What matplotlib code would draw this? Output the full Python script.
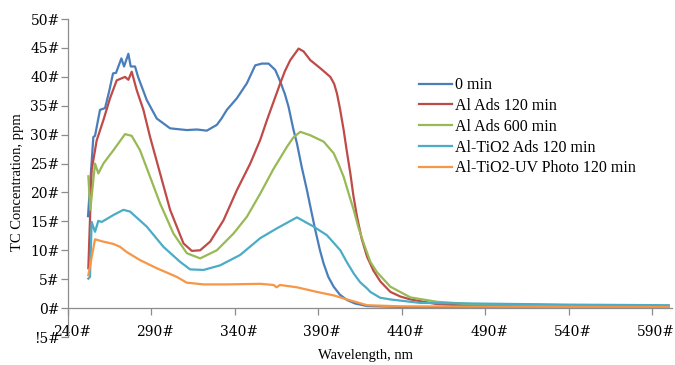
import matplotlib as mpl
import matplotlib.pyplot as plt
from matplotlib.transforms import ScaledTranslation

mpl.rcParams.update({"font.family": "Liberation Serif"})

# ---- data ----
wl_blue = [252, 255.2, 256.2, 259.2, 262.2, 264.6, 267, 268.8, 272, 273.6, 276.2, 277.6, 280.2, 282,
           287.2, 293.2, 301.2, 311.2, 317.2, 323.2, 329.2, 332, 335.2, 341.2, 347.2, 352.2, 356.2, 360.2,
           364.2, 367.2, 370, 372.2, 375, 377.2, 380, 383.2, 386, 388.2, 391, 393.2, 396, 399.2, 403,
           407.2, 412, 419.2, 440, 490, 540, 600]
tc_blue = [15.9, 29.6, 29.8, 34.3, 34.6, 37.4, 40.6, 40.7, 43.2, 41.8, 44.0, 41.8, 41.8, 40,
           36, 32.8, 31.1, 30.8, 30.9, 30.7, 31.7, 32.8, 34.3, 36.3, 38.9, 42, 42.3, 42.3,
           41.2, 39.2, 37, 34.8, 31, 28.5, 24.5, 20.4, 16.5, 13.5, 10, 7.7, 5.4, 3.7, 2.3,
           1.4, 0.8, 0.35, 0.2, 0.15, 0.15, 0.15]

wl_red = [252.2, 254.2, 257.2, 261.2, 265.2, 269.2, 274.2, 276.2, 278.2, 281.2, 285.2, 289.2, 295.2,
          301.2, 309.2, 314.2, 319.2, 325.2, 333.2, 341.2, 349.2, 355.2, 359.2, 367.2, 370, 373.2, 378.2,
          381.2, 385.2, 391.2, 397.2, 399.5, 401.2, 403, 405.2, 407, 409.2, 411, 413.2, 416, 419.2, 423,
          427.2, 433.2, 439.2, 445.2, 461, 481, 540, 600]
tc_red = [6.9, 23.9, 29, 32.5, 36.3, 39.4, 40, 39.5, 40.9, 37.7, 34.3, 29.6, 23.3,
          17, 11.2, 9.9, 10, 11.5, 15.2, 20.4, 25, 29.1, 32.5, 38.9, 41, 42.9, 44.9,
          44.4, 42.9, 41.5, 40, 38.8, 37.1, 34.5, 30.8, 27.3, 23.3, 19.5, 15.8, 12, 8.9, 6.5,
          4.6, 2.8, 2.0, 1.5, 0.7, 0.4, 0.3, 0.3]

wl_green = [252.2, 253.4, 256.2, 258.2, 261.2, 267.2, 274.2, 278.2, 283.2, 289.2, 295.2, 303.2, 311.2,
            319.2, 329.2, 339.2, 347.2, 355.2, 363, 371.2, 375, 379.2, 385.2, 393.2, 399.2, 402, 405.2,
            408, 411.2, 414, 417.2, 421.2, 425.2, 433.2, 445.2, 461, 481, 540, 600]
tc_green = [22.8, 17, 25, 23.3, 25, 27.3, 30.1, 29.8, 27.3, 22.7, 18.1, 12.9, 9.5,
            8.6, 10, 12.9, 15.8, 19.8, 24, 27.9, 29.5, 30.5, 29.9, 28.8, 26.8, 25, 22.7,
            20, 17, 14, 11.2, 8.0, 6.2, 3.7, 1.85, 1.1, 0.7, 0.5, 0.3]

wl_teal = [252.2, 253.2, 254.2, 256.2, 258.2, 260.2, 267.2, 273.2, 277.2, 287.2, 297.2, 307.2, 313.2,
           321.2, 331.2, 343.2, 355.2, 365.2, 377.2, 387.2, 395.2, 403.2, 407, 411.2, 415, 419.2, 421.2,
           427, 433.2, 451, 481, 540, 600]
tc_teal = [5.1, 5.4, 14.9, 13.2, 15.1, 14.9, 16.1, 17, 16.7, 14.1, 10.6, 8.0, 6.7,
           6.6, 7.4, 9.2, 12.1, 13.8, 15.7, 14.1, 12.6, 10, 8, 6, 4.5, 3.4, 2.8,
           1.8, 1.5, 0.9, 0.8, 0.6, 0.5]

wl_orange = [252.2, 256.2, 261.2, 267.2, 271.2, 275.2, 283.2, 293.2, 305.2, 311.2, 321.2, 335.2, 345.2,
             355.2, 363.2, 365, 367, 377.2, 389.2, 399.2, 407.2, 419.2, 440, 490, 540, 600]
tc_orange = [5.7, 11.9, 11.5, 11.1, 10.6, 9.7, 8.3, 6.9, 5.4, 4.4, 4.1, 4.1, 4.15,
             4.2, 4.0, 3.6, 4.0, 3.6, 2.8, 2.2, 1.5, 0.5, 0.3, 0.25, 0.2, 0.2]

series = [
    ("0 min", wl_blue, tc_blue, "#4A7EBB"),
    ("Al Ads 120 min", wl_red, tc_red, "#BE4B48"),
    ("Al Ads 600 min", wl_green, tc_green, "#98B954"),
    ("Al-TiO2 Ads 120 min", wl_teal, tc_teal, "#4BACC6"),
    ("Al-TiO2-UV Photo 120 min", wl_orange, tc_orange, "#F79646"),
]
x_ticks = [240, 290, 340, 390, 440, 490, 540, 590]
y_ticks = [-5, 0, 5, 10, 15, 20, 25, 30, 35, 40, 45, 50]

fig = plt.figure(figsize=(6.75, 3.65), dpi=100, facecolor="white")
ax = fig.add_axes([0.1007, 0.0767, 0.895, 0.871])

for label, x, y, col in series:
    ax.plot(x, y, color=col, lw=1.6, label=label)

ax.set_xlim(240, 602)
ax.set_ylim(-5, 50)
ax.spines["top"].set_visible(False)
ax.spines["right"].set_visible(False)
ax.spines["bottom"].set_position(("data", 0))
for s in ("left", "bottom"):
    ax.spines[s].set_color("#8C8C8C")
    ax.spines[s].set_linewidth(0.9)

ax.set_xticks(x_ticks)
ax.set_xticklabels([f"{t}#" for t in x_ticks], family="DejaVu Serif", fontsize=10)
ax.set_yticks(y_ticks)
ax.set_yticklabels([f"{t}#".replace("-", "!") for t in y_ticks], family="DejaVu Serif", fontsize=10)
ax.tick_params(axis="both", direction="out", length=5, color="#8C8C8C", width=0.9)
ax.tick_params(axis="x", pad=7)
ax.tick_params(axis="y", pad=1)
shift = ScaledTranslation(4 / 100, 0, fig.dpi_scale_trans)
for lbl in ax.get_xticklabels():
    lbl.set_transform(lbl.get_transform() + shift)

ax.set_ylabel("TC Concentration, ppm", fontsize=10.5, va="center")
ax.yaxis.set_label_coords(-0.083, 0.487)
ax.set_xlabel("Wavelength, nm", fontsize=10.5, va="center")
ax.xaxis.set_label_coords(0.493, -0.057)

ax.legend(loc="upper left", bbox_to_anchor=(0.581, 0.817), frameon=False, fontsize=11.5,
          handlelength=2.05, handletextpad=0.2, labelspacing=0.3, borderaxespad=0,
          borderpad=0)

fig.savefig("out.png", dpi=100, facecolor="white")
